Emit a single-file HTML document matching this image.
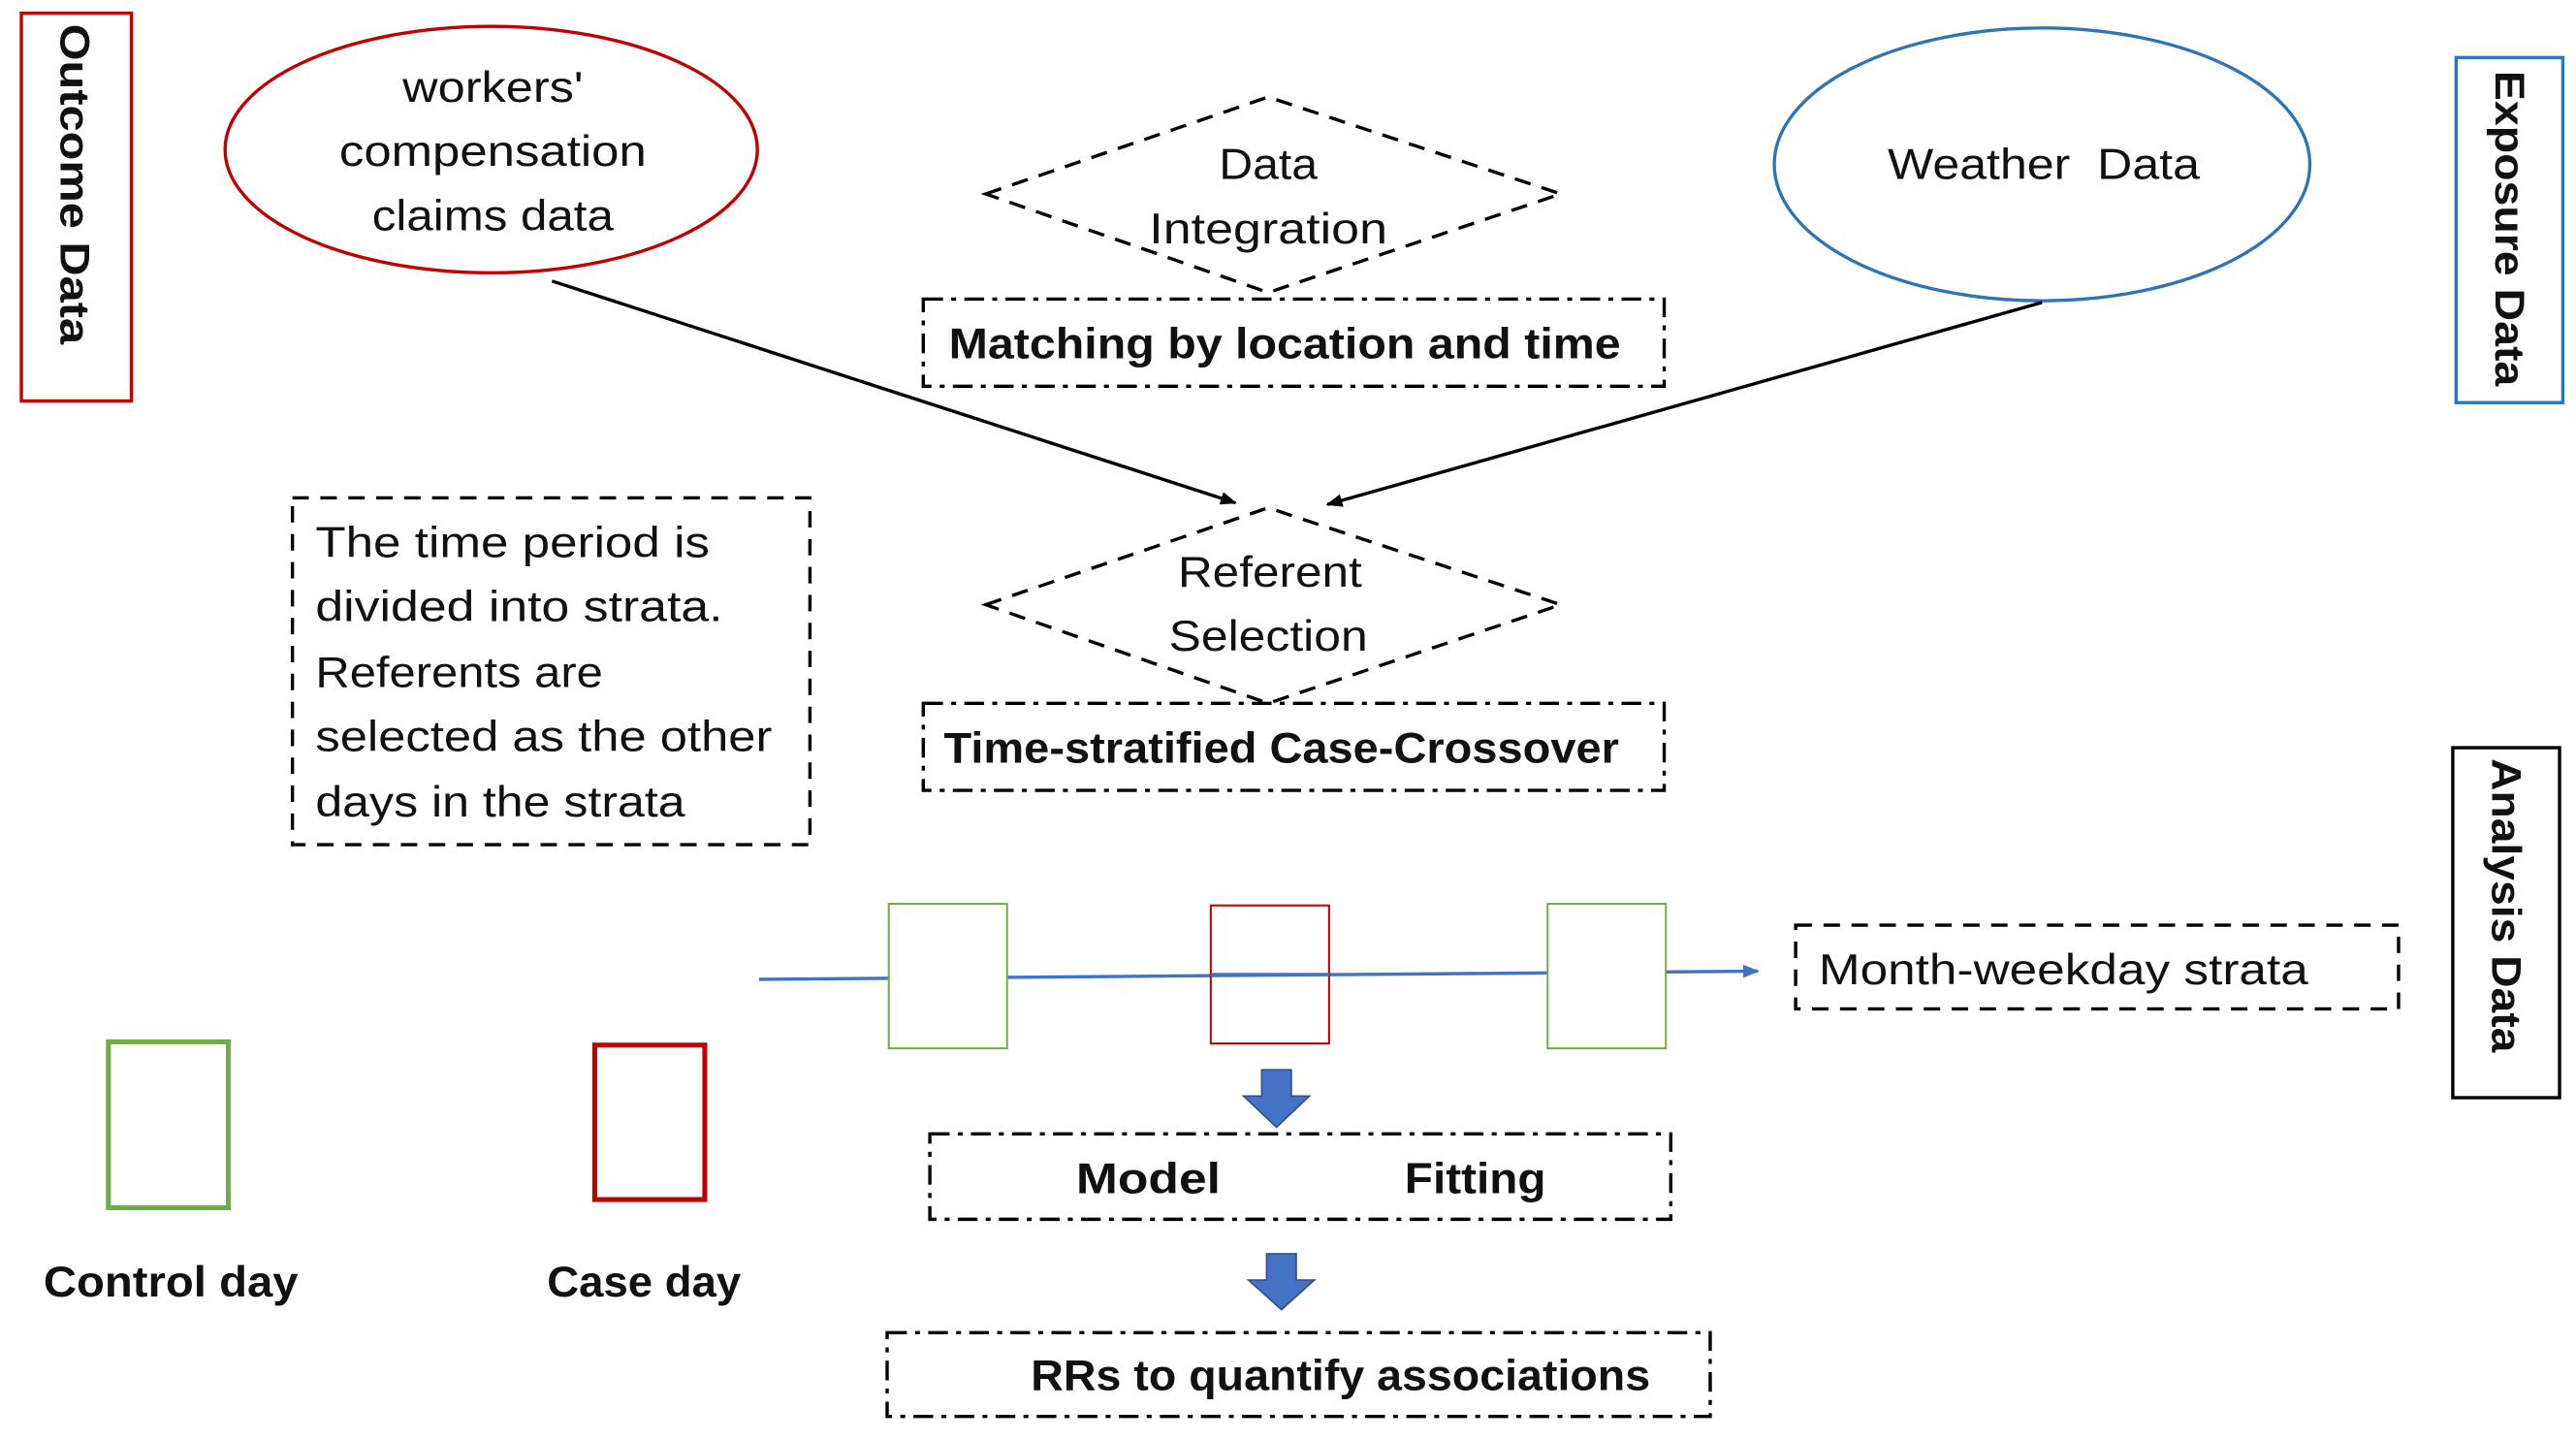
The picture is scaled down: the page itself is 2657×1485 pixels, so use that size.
<!DOCTYPE html>
<html><head><meta charset="utf-8"><style>
html,body{margin:0;padding:0;background:#fff;}
svg{display:block;}
text{font-family:"Liberation Sans",sans-serif;fill:#111;}
.b{font-weight:bold;}
</style></head><body>
<svg width="2657" height="1485" viewBox="0 0 1568 876.3" xmlns="http://www.w3.org/2000/svg">
<defs>
<marker id="ah" markerWidth="10" markerHeight="8" refX="9" refY="4" orient="auto" markerUnits="userSpaceOnUse"><path d="M0,0 L10,4 L0,8 Z" fill="#000"/></marker>
<marker id="ahb" markerWidth="10" markerHeight="8" refX="9" refY="4" orient="auto" markerUnits="userSpaceOnUse"><path d="M0,0 L10,4 L0,8 Z" fill="#4472c4"/></marker>
</defs>
<rect width="1568" height="876.3" fill="#fff"/>

<rect x="13" y="8" width="67" height="236" fill="none" stroke="#c00000" stroke-width="2"/>
<text class="b" font-size="25" transform="translate(37,112) rotate(90)" text-anchor="middle" textLength="195" lengthAdjust="spacingAndGlyphs">Outcome Data</text>
<rect x="1495" y="35" width="65" height="210" fill="none" stroke="#2e75b6" stroke-width="2"/>
<text class="b" font-size="25" transform="translate(1519,139) rotate(90)" text-anchor="middle" textLength="192" lengthAdjust="spacingAndGlyphs">Exposure Data</text>
<rect x="1493" y="455" width="65" height="213" fill="none" stroke="#000" stroke-width="2"/>
<text class="b" font-size="25" transform="translate(1517,551) rotate(90)" text-anchor="middle" textLength="179" lengthAdjust="spacingAndGlyphs">Analysis Data</text>

<ellipse cx="299" cy="91" rx="162" ry="75" fill="none" stroke="#c00000" stroke-width="2"/>
<text font-size="26" text-anchor="middle" x="300" y="62" textLength="110" lengthAdjust="spacingAndGlyphs">workers'</text>
<text font-size="26" text-anchor="middle" x="300" y="101" textLength="187" lengthAdjust="spacingAndGlyphs">compensation</text>
<text font-size="26" text-anchor="middle" x="300" y="140" textLength="147" lengthAdjust="spacingAndGlyphs">claims data</text>
<ellipse cx="1243" cy="100" rx="163" ry="83" fill="none" stroke="#2e75b6" stroke-width="2"/>
<text font-size="26" text-anchor="middle" x="1244" y="109" xml:space="preserve" textLength="190" lengthAdjust="spacingAndGlyphs">Weather  Data</text>

<polygon points="600,118 772,59 950,118 772,178" fill="none" stroke="#000" stroke-width="2" stroke-dasharray="10,7"/>
<text font-size="26" text-anchor="middle" x="772" y="109" textLength="60" lengthAdjust="spacingAndGlyphs">Data</text>
<text font-size="26" text-anchor="middle" x="772" y="148" textLength="145" lengthAdjust="spacingAndGlyphs">Integration</text>
<polygon points="600,368 772,309 950,368 772,428" fill="none" stroke="#000" stroke-width="2" stroke-dasharray="10,7"/>
<text font-size="26" text-anchor="middle" x="773" y="357" textLength="112" lengthAdjust="spacingAndGlyphs">Referent</text>
<text font-size="26" text-anchor="middle" x="772" y="396" textLength="121" lengthAdjust="spacingAndGlyphs">Selection</text>

<g fill="none" stroke="#000" stroke-width="2" stroke-dasharray="12,5,3,5">
<rect x="562" y="182" width="451" height="53"/>
<rect x="562" y="428" width="451" height="53"/>
<rect x="566" y="690" width="451" height="52"/>
<rect x="540" y="811" width="501" height="51"/>
</g>
<text class="b" font-size="26" text-anchor="middle" x="782" y="218" textLength="409" lengthAdjust="spacingAndGlyphs">Matching by location and time</text>
<text class="b" font-size="26" text-anchor="middle" x="780" y="464" textLength="411" lengthAdjust="spacingAndGlyphs">Time-stratified Case-Crossover</text>
<text class="b" font-size="26" text-anchor="middle" x="699" y="726" textLength="88" lengthAdjust="spacingAndGlyphs">Model</text>
<text class="b" font-size="26" text-anchor="middle" x="898" y="726" textLength="86" lengthAdjust="spacingAndGlyphs">Fitting</text>
<text class="b" font-size="26" text-anchor="middle" x="816" y="846" textLength="377" lengthAdjust="spacingAndGlyphs">RRs to quantify associations</text>

<line x1="336" y1="171" x2="752" y2="306" stroke="#000" stroke-width="2" marker-end="url(#ah)"/>
<line x1="1243" y1="184" x2="808" y2="307" stroke="#000" stroke-width="2" marker-end="url(#ah)"/>

<g fill="none" stroke="#000" stroke-width="2" stroke-dasharray="10,7">
<rect x="178" y="303" width="315" height="211"/>
<rect x="1093" y="563" width="367" height="51"/>
</g>
<g font-size="26">
<text x="192" y="339" textLength="240" lengthAdjust="spacingAndGlyphs">The time period is</text>
<text x="192" y="378" textLength="248" lengthAdjust="spacingAndGlyphs">divided into strata.</text>
<text x="192" y="418" textLength="175" lengthAdjust="spacingAndGlyphs">Referents are</text>
<text x="192" y="457" textLength="278" lengthAdjust="spacingAndGlyphs">selected as the other</text>
<text x="192" y="497" textLength="225" lengthAdjust="spacingAndGlyphs">days in the strata</text>
<text x="1107" y="599" textLength="298" lengthAdjust="spacingAndGlyphs">Month-weekday strata</text>
</g>

<line x1="462" y1="596" x2="1070" y2="591" stroke="#4472c4" stroke-width="2" marker-end="url(#ahb)"/>
<rect x="541" y="550" width="72" height="88" fill="#fff" stroke="#70ad47" stroke-width="1.2"/>
<rect x="942" y="550" width="72" height="88" fill="#fff" stroke="#70ad47" stroke-width="1.2"/>
<rect x="737" y="551" width="72" height="84" fill="none" stroke="#c00000" stroke-width="1.2"/>
<line x1="737" y1="593" x2="809" y2="593" stroke="#4472c4" stroke-width="2"/>

<rect x="66" y="634" width="73" height="101" fill="none" stroke="#70ad47" stroke-width="3"/>
<rect x="362" y="636" width="67" height="94" fill="none" stroke="#c00000" stroke-width="3"/>
<text class="b" font-size="26" text-anchor="middle" x="104" y="789" textLength="155" lengthAdjust="spacingAndGlyphs">Control day</text>
<text class="b" font-size="26" text-anchor="middle" x="392" y="789" textLength="118" lengthAdjust="spacingAndGlyphs">Case day</text>

<path d="M768,651 H786 V667 H797 L777,686 L757,667 H768 Z" fill="#4472c4" stroke="#2f528f" stroke-width="1"/>
<path d="M771,763 H789 V779 H800 L780,797 L760,779 H771 Z" fill="#4472c4" stroke="#2f528f" stroke-width="1"/>
</svg>
</body></html>
